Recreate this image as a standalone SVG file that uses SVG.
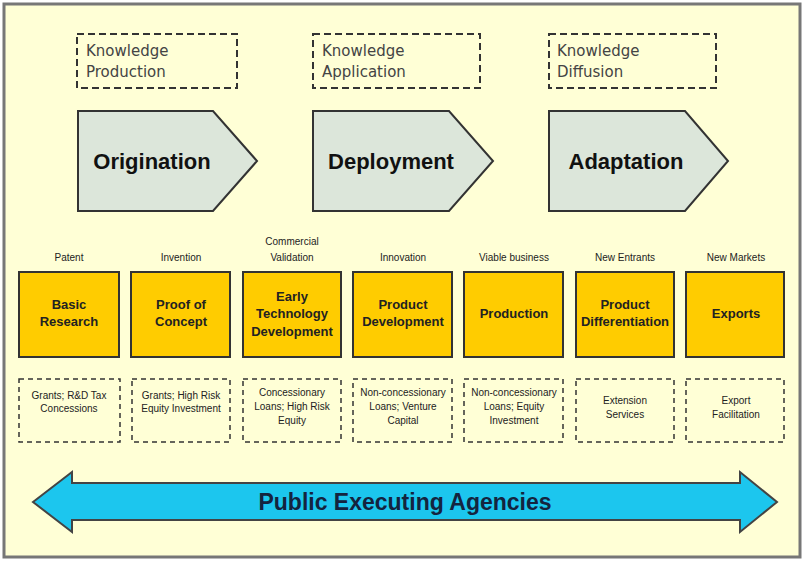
<svg xmlns="http://www.w3.org/2000/svg" width="804" height="563" viewBox="0 0 804 563">
<style>
.kbox{fill:none;stroke:#333;stroke-width:2;stroke-dasharray:7,4}
.ktxt{font-family:"DejaVu Sans",sans-serif;font-size:15px;fill:#444}
.pent{fill:#DCE6DA;stroke:#333;stroke-width:2}
.ptxt{font-family:"Liberation Sans",Arial,sans-serif;font-weight:bold;font-size:22px;fill:#111;text-anchor:middle}
.ybox{fill:#FFCC00;stroke:#333;stroke-width:2}
.ytxt{font-family:"Liberation Sans",Arial,sans-serif;font-weight:bold;font-size:13px;fill:#222;text-anchor:middle}
.lbl{font-family:"Liberation Sans",Arial,sans-serif;font-size:10px;fill:#222;text-anchor:middle}
.dbox{fill:none;stroke:#333;stroke-width:1.5;stroke-dasharray:5,4}
.dtxt{font-family:"Liberation Sans",Arial,sans-serif;font-size:10px;fill:#222;text-anchor:middle}
.arr{fill:#1CC6EE;stroke:#444;stroke-width:2}
.atxt{font-family:"Liberation Sans",Arial,sans-serif;font-weight:bold;font-size:23px;fill:#14243F;text-anchor:middle}
</style>
<rect x="0" y="0" width="804" height="563" fill="#FFFFFF"/>
<rect x="4" y="4" width="796" height="553" fill="#FFFFD6" stroke="#777" stroke-width="3"/>

<g id="k1"><rect class="kbox" x="77" y="34" width="160" height="54"/><text class="ktxt" x="86" y="56">Knowledge</text><text class="ktxt" x="86" y="77">Production</text></g>
<g id="k2"><rect class="kbox" x="313" y="34" width="167" height="54"/><text class="ktxt" x="322" y="56">Knowledge</text><text class="ktxt" x="322" y="77">Application</text></g>
<g id="k3"><rect class="kbox" x="549" y="34" width="167" height="54"/><text class="ktxt" x="557" y="56">Knowledge</text><text class="ktxt" x="557" y="77">Diffusion</text></g>

<g id="p1"><polygon class="pent" points="78,111 213,111 257,161 213,211 78,211"/><text class="ptxt" x="152" y="169">Origination</text></g>
<g id="p2"><polygon class="pent" points="313,111 449,111 493,161 449,211 313,211"/><text class="ptxt" x="391" y="169">Deployment</text></g>
<g id="p3"><polygon class="pent" points="549,111 685,111 728,161 685,211 549,211"/><text class="ptxt" x="626" y="169">Adaptation</text></g>

<text class="lbl" x="69" y="261">Patent</text>
<text class="lbl" x="181" y="261">Invention</text>
<text class="lbl" x="292" y="245">Commercial</text>
<text class="lbl" x="292" y="261">Validation</text>
<text class="lbl" x="403" y="261">Innovation</text>
<text class="lbl" x="514" y="261">Viable business</text>
<text class="lbl" x="625" y="261">New Entrants</text>
<text class="lbl" x="736" y="261">New Markets</text>

<g id="b1"><rect class="ybox" x="19" y="272" width="100" height="85"/><text class="ytxt" x="69" y="309">Basic</text><text class="ytxt" x="69" y="326">Research</text></g>
<g id="b2"><rect class="ybox" x="131" y="272" width="99" height="85"/><text class="ytxt" x="181" y="309">Proof of</text><text class="ytxt" x="181" y="326">Concept</text></g>
<g id="b3"><rect class="ybox" x="243" y="272" width="98" height="85"/><text class="ytxt" x="292" y="301">Early</text><text class="ytxt" x="292" y="318">Technology</text><text class="ytxt" x="292" y="336">Development</text></g>
<g id="b4"><rect class="ybox" x="353" y="272" width="99" height="85"/><text class="ytxt" x="403" y="309">Product</text><text class="ytxt" x="403" y="326">Development</text></g>
<g id="b5"><rect class="ybox" x="464" y="272" width="99" height="85"/><text class="ytxt" x="514" y="318">Production</text></g>
<g id="b6"><rect class="ybox" x="576" y="272" width="98" height="85"/><text class="ytxt" x="625" y="309">Product</text><text class="ytxt" x="625" y="326">Differentiation</text></g>
<g id="b7"><rect class="ybox" x="686" y="272" width="98" height="85"/><text class="ytxt" x="736" y="318">Exports</text></g>

<g id="d1"><rect class="dbox" x="19" y="379" width="101" height="63"/><text class="dtxt" x="69" y="399">Grants; R&amp;D Tax</text><text class="dtxt" x="69" y="412">Concessions</text></g>
<g id="d2"><rect class="dbox" x="132" y="379" width="98" height="63"/><text class="dtxt" x="181" y="399">Grants; High Risk</text><text class="dtxt" x="181" y="412">Equity Investment</text></g>
<g id="d3"><rect class="dbox" x="243" y="379" width="98" height="63"/><text class="dtxt" x="292" y="396">Concessionary</text><text class="dtxt" x="292" y="410">Loans; High Risk</text><text class="dtxt" x="292" y="424">Equity</text></g>
<g id="d4"><rect class="dbox" x="353" y="379" width="99" height="63"/><text class="dtxt" x="403" y="396">Non-concessionary</text><text class="dtxt" x="403" y="410">Loans; Venture</text><text class="dtxt" x="403" y="424">Capital</text></g>
<g id="d5"><rect class="dbox" x="464" y="379" width="99" height="63"/><text class="dtxt" x="514" y="396">Non-concessionary</text><text class="dtxt" x="514" y="410">Loans; Equity</text><text class="dtxt" x="514" y="424">Investment</text></g>
<g id="d6"><rect class="dbox" x="576" y="379" width="98" height="63"/><text class="dtxt" x="625" y="404">Extension</text><text class="dtxt" x="625" y="418">Services</text></g>
<g id="d7"><rect class="dbox" x="686" y="379" width="98" height="63"/><text class="dtxt" x="736" y="404">Export</text><text class="dtxt" x="736" y="418">Facilitation</text></g>

<g id="agencies"><polygon class="arr" points="33,502 72,472 72,483 740,483 740,472 777,502 740,532 740,520 72,520 72,532"/><text class="atxt" x="405" y="510">Public Executing Agencies</text></g>
</svg>
